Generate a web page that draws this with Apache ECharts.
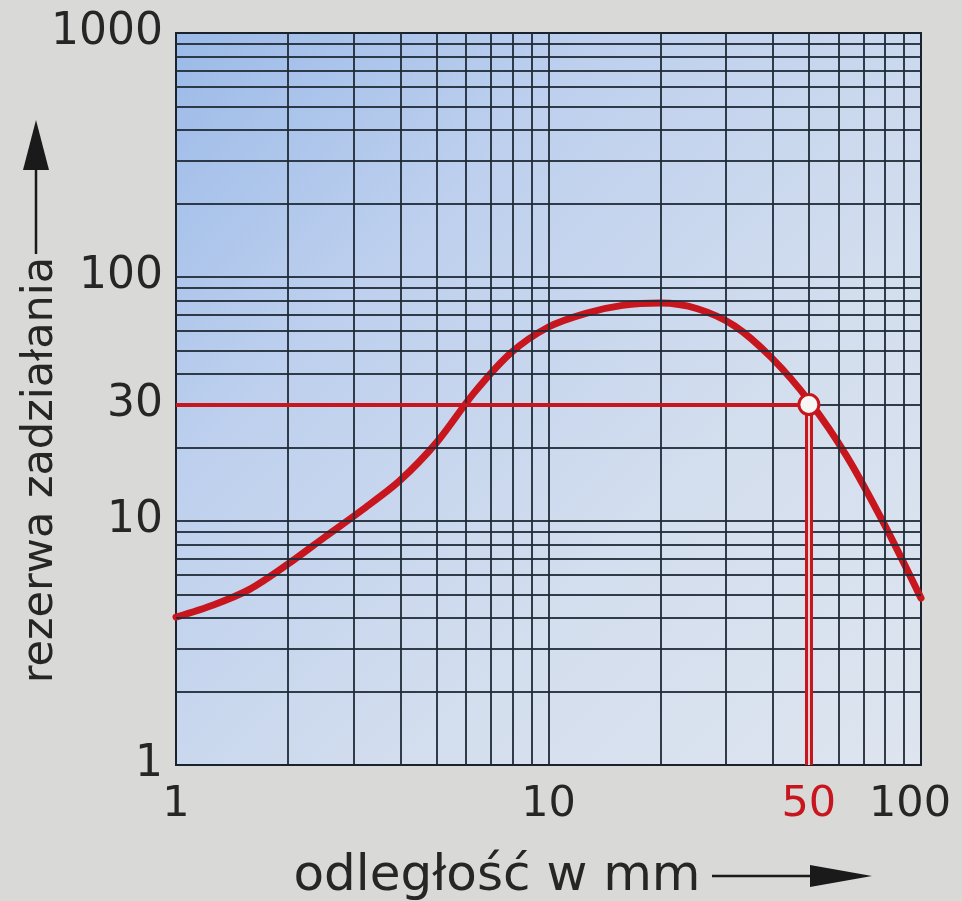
<!DOCTYPE html>
<html>
<head>
<meta charset="utf-8">
<style>
html,body{margin:0;padding:0;background:#d9d9d7;}
#chart{width:962px;height:901px;}
</style>
<script src="https://cdn.jsdelivr.net/npm/echarts@6/dist/echarts.min.js"></script>
</head>
<body>
<div id="chart"></div>
<script>
// ---- data ----
const distance = [1, 1.26, 1.58, 2.0, 2.51, 3.16, 3.98, 5.01, 6.31, 7.94, 10, 12.6, 15.8, 20, 25.1, 31.6, 39.8, 50.1, 63.1, 79.4, 100];
const reserve  = [4.04, 4.53, 5.26, 6.67, 8.6, 11.1, 14.6, 21.0, 33.5, 49, 62.4, 71, 76.5, 78.2, 74.1, 63.0, 46.5, 31, 18.5, 9.8, 4.83];
const xTickValues = [1, 10, 50, 100];
const yTickValues = [1, 10, 30, 100, 1000];
const xGridValues = [2,3,4,5,6,7,8,9,10,20,30,40,50,60,70,80,90];
const yGridValues = [2,3,4,5,6,7,8,9,10,20,30,40,50,60,70,80,90,100,200,300,400,500,600,700,800,900];
const markX = 50;
const markY = 30;
const xTitle = 'odległość w mm';
const yTitle = 'rezerwa zadziałania';

const FONT = 'DejaVu Sans';
const RED = '#c8161e';
const INK = '#262626';
const GRIDC = '#1f2a36';

const chart = echarts.init(document.getElementById('chart'), null, {renderer: 'canvas'});

const curve = distance.map((d, i) => [d, reserve[i]]);

const option = {
  backgroundColor: '#d9d9d7',
  animation: false,
  grid: {
    left: 176, right: 41, top: 33, bottom: 136,
    show: true,
    borderColor: '#1a232d',
    borderWidth: 2,
    backgroundColor: new echarts.graphic.LinearGradient(0, 0, 1, 1, [
      {offset: 0, color: '#9bbae8'},
      {offset: 0.3, color: '#bed0ee'},
      {offset: 0.65, color: '#d3deee'},
      {offset: 1, color: '#dee5ef'}
    ])
  },
  xAxis: {
    type: 'log', logBase: 10, min: 1, max: 100,
    axisLine: {show: false},
    axisTick: {show: false},
    splitLine: {show: false},
    axisLabel: {
      customValues: xTickValues,
      margin: 18,
      fontFamily: FONT, fontSize: 43,
      color: function (v) { return v === markX ? RED : INK; },
      formatter: function (v) { return v === 100 ? '{r|100}' : String(v); },
      rich: { r: {fontFamily: FONT, fontSize: 43, color: INK, padding: [0, 22, 0, 0]} }
    }
  },
  yAxis: {
    type: 'log', logBase: 10, min: 1, max: 1000,
    axisLine: {show: false},
    axisTick: {show: false},
    splitLine: {show: false},
    axisLabel: {
      customValues: yTickValues,
      margin: 13,
      fontFamily: FONT, fontSize: 44,
      color: INK,
      formatter: function (v) { return String(v); }
    }
  },
  graphic: [
    {type: 'text', x: 497, y: 877, z: 10,
     style: {text: xTitle, font: '50px "DejaVu Sans"', fill: INK, textAlign: 'center', textVerticalAlign: 'middle'}},
    {type: 'line', z: 10, shape: {x1: 712, y1: 876, x2: 818, y2: 876}, style: {stroke: '#1a1a1a', lineWidth: 2.5}},
    {type: 'polygon', z: 10, shape: {points: [[810, 865], [872, 876], [810, 887]]}, style: {fill: '#1a1a1a'}},
    {type: 'text', x: 41, y: 470, rotation: Math.PI / 2, z: 10,
     style: {text: yTitle, font: '43px "DejaVu Sans"', fill: INK, textAlign: 'center', textVerticalAlign: 'middle'}},
    {type: 'line', z: 10, shape: {x1: 36, y1: 254, x2: 36, y2: 162}, style: {stroke: '#1a1a1a', lineWidth: 2.5}},
    {type: 'polygon', z: 10, shape: {points: [[23, 170], [36, 120], [49, 170]]}, style: {fill: '#1a1a1a'}}
  ],
  series: [
    {
      type: 'line', data: [], z: 1, silent: true,
      markLine: {
        silent: true, symbol: 'none', animation: false,
        label: {show: false},
        lineStyle: {color: GRIDC, width: 2, type: 'solid', opacity: 0.9},
        emphasis: {disabled: true},
        data: xGridValues.map(v => ({xAxis: v})).concat(yGridValues.map(v => ({yAxis: v})))
      }
    },
    {
      type: 'line', data: [], z: 3, silent: true,
      markLine: {
        silent: true, symbol: 'none', animation: false,
        label: {show: false},
        emphasis: {disabled: true},
        lineStyle: {color: RED, width: 4, type: 'solid'},
        data: [
          [{coord: [1, markY]}, {coord: [markX, markY]}],
          [{coord: [markX, markY], lineStyle: {width: 8}}, {coord: [markX, 1]}]
        ]
      }
    },
    {
      type: 'line', data: [], z: 3, silent: true,
      markLine: {
        silent: true, symbol: 'none', animation: false,
        label: {show: false},
        emphasis: {disabled: true},
        lineStyle: {color: '#e9cfd0', width: 2, type: 'solid'},
        data: [
          [{coord: [markX, markY]}, {coord: [markX, 1]}]
        ]
      }
    },
    {
      type: 'line', data: curve, z: 4, smooth: 0.3,
      symbol: 'none', silent: true,
      lineStyle: {color: RED, width: 7, cap: 'round', join: 'round'}
    },
    {
      type: 'scatter', data: [[markX, markY]], z: 5, silent: true,
      symbol: 'circle', symbolSize: 20,
      itemStyle: {color: '#f6f6f4', borderColor: RED, borderWidth: 3, opacity: 1}
    }
  ]
};
chart.setOption(option);
</script>
</body>
</html>
